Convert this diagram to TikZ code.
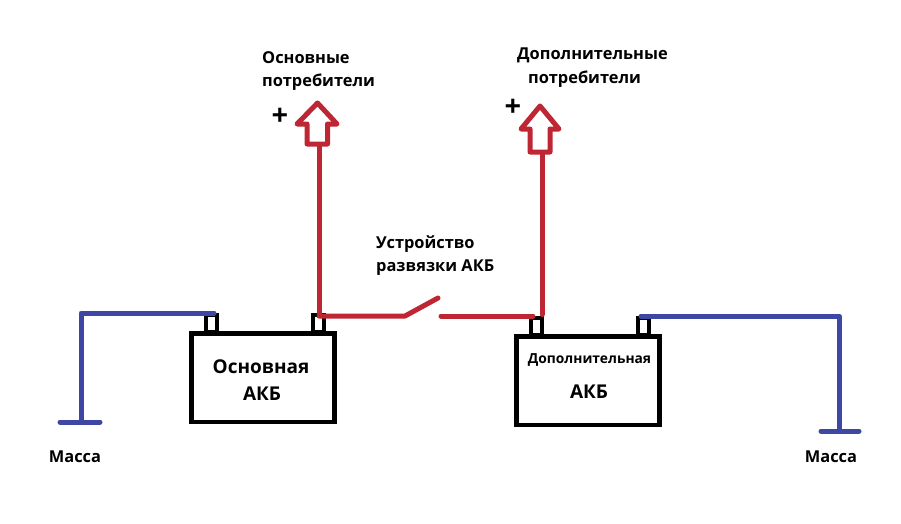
\documentclass[tikz,border=0pt]{standalone}
\usepackage{fontspec}
\setmainfont{Open Sans}
\definecolor{wirered}{RGB}{190,38,52}
\definecolor{wireblue}{RGB}{62,72,164}
\tikzset{
  x=1pt,y=-1pt,
  battery/.style={draw=black,line width=4.5pt,fill=white,minimum width=143pt,minimum height=88.5pt,inner sep=0pt},
  terminal/.style={draw=black,line width=4pt,fill=white,minimum width=11pt,minimum height=17pt,inner sep=0pt},
  redwire/.style={draw=wirered,line width=5pt,line join=round,line cap=round},
  bluewire/.style={draw=wireblue,line width=5pt,line join=round,line cap=round},
  redarrow/.style={draw=wirered,line width=5pt,line join=round,fill=white},
  lbl/.style={font=\bfseries\fontsize{16.4}{20}\selectfont,inner sep=0pt},
  lblleft/.style={lbl,anchor=west},
  biglbl/.style={font=\bfseries\fontsize{19}{22}\selectfont,inner sep=0pt},
  smalllbl/.style={font=\bfseries\fontsize{13.8}{16}\selectfont,inner sep=0pt},
  plus/.style={font=\bfseries\fontsize{29}{29}\selectfont,inner sep=0pt}
}
\begin{document}
\begin{tikzpicture}
\useasboundingbox (0,0) rectangle (901,524);
\fill[white] (0,0) rectangle (901,524);
% terminals
\node[terminal] (t1) at (211.5,323) {};
\node[terminal] (t2) at (318.5,323) {};
\node[terminal] (t3) at (536.5,326) {};
\node[terminal] (t4) at (643.5,326) {};
% batteries
\node[battery] (b1) at (263,377.5) {};
\node[battery] (b2) at (588,380.5) {};
\node[biglbl] (b1a) at (261,366.5) {Основная};
\node[biglbl] (b1b) at (262,393.5) {АКБ};
\node[smalllbl] (b2a) at (589.5,360.5) {Дополнительная};
\node[biglbl] (b2b) at (589,391.5) {АКБ};
% named points
\coordinate (g1) at (81,422);
\coordinate (g1l) at (60,422);
\coordinate (g1r) at (100,422);
\coordinate (g2) at (839,431);
\coordinate (g2l) at (821,431);
\coordinate (g2r) at (859,431);
\coordinate (a1) at (319,144);
\coordinate (a2) at (542,152);
\coordinate (s1) at (405,316);
\coordinate (s2) at (438,298);
\coordinate (s3) at (441,316);
% blue wires
\draw[bluewire] (214,313) -- (g1 |- 0,313) -- (g1);
\draw[bluewire] (g1l) -- (g1r);
\draw[bluewire] (641,316) -- (g2 |- 0,316) -- (g2);
\draw[bluewire] (g2l) -- (g2r);
% red wires
\draw[redwire] (t2.north) ++(0.5,2) -- (a1);
\draw[redwire] (319,316) -- (s1) -- (s2);
\draw[redwire] (s3) -- (533,316);
\draw[redwire] (t3.north) ++(5.5,-1) -- (a2);
% arrows
\draw[redarrow] (317.5,103) -- (337,124) -- (327.5,124) -- (327.5,144) -- (307,144) -- (307,124) -- (297,124) -- cycle;
\draw[redarrow] (540,106) -- (559,129) -- (550,129) -- (550,152) -- (530,152) -- (530,129) -- (521,129) -- cycle;
% labels
\node[lblleft] (l1) at (262,58) {Основные};
\node[lblleft] (l2) at (262,82) {потребители};
\node[lblleft] (l3) at (517,55) {Дополнительные};
\node[lblleft] (l4) at (528,79) {потребители};
\node[lblleft] (l5) at (376,244) {Устройство};
\node[lblleft] (l6) at (376,268) {развязки АКБ};
\node[lbl] (m1) at (75,457) {Масса};
\node[lbl] (m2) at (831,457) {Масса};
\node[plus] (p1) at (280,117) {+};
\node[plus] (p2) at (513,108) {+};
\end{tikzpicture}
\end{document}
